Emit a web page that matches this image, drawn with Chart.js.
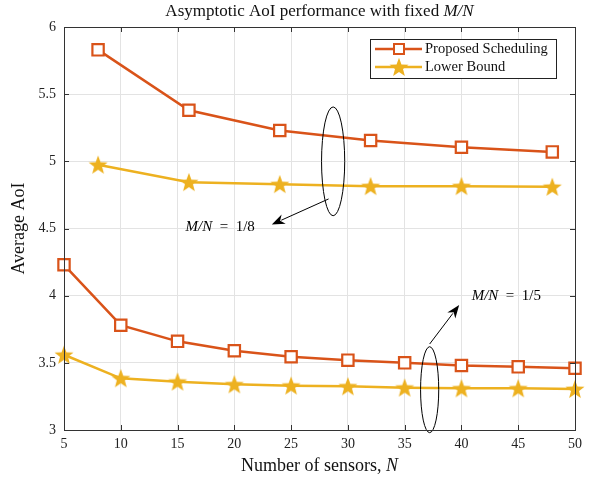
<!DOCTYPE html>
<html>
<head>
<meta charset="utf-8">
<script src="https://cdn.jsdelivr.net/npm/chart.js@4/dist/chart.umd.min.js"></script>
<style>
  html, body { margin: 0; padding: 0; background: #fff; }
  #wrap { width: 597px; height: 479px; }
</style>
</head>
<body>
<div id="wrap"><canvas id="c" width="597" height="479"></canvas></div>
<script>
// ─── Data ─────────────────────────────────────────────
const N_EIGHTH   = [8, 16, 24, 32, 40, 48];
const PROP_EIGHTH = [5.83, 5.38, 5.23, 5.155, 5.105, 5.07];
const LB_EIGHTH   = [4.975, 4.845, 4.83, 4.815, 4.815, 4.81];

const N_FIFTH    = [5, 10, 15, 20, 25, 30, 35, 40, 45, 50];
const PROP_FIFTH = [4.23, 3.78, 3.66, 3.59, 3.545, 3.52, 3.50, 3.48, 3.47, 3.46];
const LB_FIFTH   = [3.56, 3.385, 3.36, 3.34, 3.33, 3.325, 3.315, 3.31, 3.31, 3.305];

const X_TICKS = [5, 10, 15, 20, 25, 30, 35, 40, 45, 50];
const Y_TICKS = [3, 3.5, 4, 4.5, 5, 5.5, 6];

const C_PROP = '#D95319';
const C_LB   = '#EDB120';
const SERIF  = '"Liberation Serif", "DejaVu Serif", serif';

// filled 5-point star used as point style
function makeStar(r, color) {
  const cv = document.createElement('canvas');
  const s = Math.ceil(r * 2 + 2);
  cv.width = s; cv.height = s;
  const g = cv.getContext('2d');
  g.translate(s / 2, s / 2 + 0.8);
  g.beginPath();
  for (let i = 0; i < 10; i++) {
    const rr = i % 2 === 0 ? r : r * 0.42;
    const a = -Math.PI / 2 + i * Math.PI / 5;
    g.lineTo(rr * Math.cos(a), rr * Math.sin(a));
  }
  g.closePath();
  g.fillStyle = color;
  g.fill();
  return cv;
}
const STAR = makeStar(10, C_LB);

const pts = (xs, ys) => xs.map((x, i) => ({ x, y: ys[i] }));

function propSet(data) {
  return {
    data, borderColor: C_PROP, borderWidth: 2.5, clip: false,
    pointStyle: 'rect', pointRadius: 8, pointBorderWidth: 2.2,
    pointBackgroundColor: '#fff', pointBorderColor: C_PROP,
    pointRotation: 0, tension: 0,
  };
}
function lbSet(data) {
  return {
    data, borderColor: C_LB, borderWidth: 2.5, clip: false,
    pointStyle: STAR, pointRadius: 10, tension: 0,
  };
}

// mixed roman / italic text
function drawMixed(ctx, parts, x, y, size, align) {
  const widths = parts.map(p => {
    ctx.font = (p.it ? 'italic ' : '') + size + 'px ' + SERIF;
    return ctx.measureText(p.t).width;
  });
  const total = widths.reduce((a, b) => a + b, 0);
  let cx = align === 'center' ? x - total / 2 : x;
  ctx.textAlign = 'left';
  parts.forEach((p, i) => {
    ctx.font = (p.it ? 'italic ' : '') + size + 'px ' + SERIF;
    ctx.fillText(p.t, cx, y);
    cx += widths[i];
  });
}

function arrow(ctx, x0, y0, x1, y1) {
  const a = Math.atan2(y1 - y0, x1 - x0);
  const L = 13, W = 5;
  ctx.beginPath();
  ctx.moveTo(x0, y0);
  ctx.lineTo(x1 - L * 0.8 * Math.cos(a), y1 - L * 0.8 * Math.sin(a));
  ctx.stroke();
  ctx.beginPath();
  ctx.moveTo(x1, y1);
  ctx.lineTo(x1 - L * Math.cos(a) + W * Math.sin(a), y1 - L * Math.sin(a) - W * Math.cos(a));
  ctx.lineTo(x1 - L * 0.7 * Math.cos(a), y1 - L * 0.7 * Math.sin(a));
  ctx.lineTo(x1 - L * Math.cos(a) - W * Math.sin(a), y1 - L * Math.sin(a) + W * Math.cos(a));
  ctx.closePath();
  ctx.fill();
}

const decor = {
  id: 'decor',
  afterDatasetsDraw(chart) {
    const { ctx, chartArea: a, scales: { x, y } } = chart;
    ctx.save();
    ctx.strokeStyle = '#000';
    ctx.fillStyle = '#000';
    ctx.lineWidth = 1;

    // ellipses (data units)
    const ell = (cx, cy, rx, ry) => {
      ctx.beginPath();
      ctx.ellipse(x.getPixelForValue(cx), y.getPixelForValue(cy),
        Math.abs(x.getPixelForValue(cx + rx) - x.getPixelForValue(cx)),
        Math.abs(y.getPixelForValue(cy + ry) - y.getPixelForValue(cy)), 0, 0, Math.PI * 2);
      ctx.stroke();
    };
    ell(28.7, 5.0, 1.02, 0.405);
    ell(37.2, 3.3, 0.8, 0.32);

    arrow(ctx, x.getPixelForValue(28.3), y.getPixelForValue(4.72),
               x.getPixelForValue(23.3), y.getPixelForValue(4.53));
    arrow(ctx, x.getPixelForValue(37.2), y.getPixelForValue(3.64),
               x.getPixelForValue(39.8), y.getPixelForValue(3.93));

    ctx.textBaseline = 'middle';
    const eq = '\u2002=\u20021/';
    drawMixed(ctx, [{ t: 'M/N', it: true }, { t: eq + '8' }],
      x.getPixelForValue(15.7), y.getPixelForValue(4.51), 15, 'left');
    drawMixed(ctx, [{ t: 'M/N', it: true }, { t: eq + '5' }],
      x.getPixelForValue(40.9), y.getPixelForValue(3.995), 15, 'left');

    // legend
    const lx = 370, ly = 39, lw = 186, lh = 39;
    ctx.fillStyle = '#fff';
    ctx.fillRect(lx, ly, lw, lh);
    ctx.strokeStyle = '#222';
    ctx.lineWidth = 1;
    ctx.strokeRect(lx + 0.5, ly + 0.5, lw, lh);
    const rows = [
      { label: 'Proposed Scheduling', color: C_PROP, star: false, yy: ly + 10 },
      { label: 'Lower Bound', color: C_LB, star: true, yy: ly + 28 },
    ];
    rows.forEach(r => {
      ctx.strokeStyle = r.color;
      ctx.lineWidth = 2.5;
      ctx.beginPath();
      ctx.moveTo(lx + 5, r.yy); ctx.lineTo(lx + 52, r.yy); ctx.stroke();
      if (r.star) {
        ctx.drawImage(STAR, lx + 29 - STAR.width / 2, r.yy - STAR.height / 2);
      } else {
        ctx.fillStyle = '#fff';
        ctx.lineWidth = 2;
        ctx.fillRect(lx + 24, r.yy - 5, 10, 10);
        ctx.strokeRect(lx + 24, r.yy - 5, 10, 10);
      }
      ctx.fillStyle = '#111';
      ctx.font = '14.5px ' + SERIF;
      ctx.textAlign = 'left';
      ctx.fillText(r.label, lx + 55, r.yy + 0.5);
    });
    ctx.restore();
  },
  afterDraw(chart) {
    const { ctx, chartArea: a, scales: { x, y } } = chart;
    ctx.save();
    // box
    ctx.strokeStyle = '#333';
    ctx.lineWidth = 1;
    ctx.strokeRect(Math.round(a.left) + 0.5, Math.round(a.top) + 0.5,
      Math.round(a.right - a.left), Math.round(a.bottom - a.top));
    // inward ticks on all sides
    ctx.beginPath();
    X_TICKS.forEach(v => {
      const px = Math.round(x.getPixelForValue(v)) + 0.5;
      ctx.moveTo(px, a.bottom); ctx.lineTo(px, a.bottom - 5);
      ctx.moveTo(px, a.top); ctx.lineTo(px, a.top + 5);
    });
    Y_TICKS.forEach(v => {
      const py = Math.round(y.getPixelForValue(v)) + 0.5;
      ctx.moveTo(a.left, py); ctx.lineTo(a.left + 5, py);
      ctx.moveTo(a.right, py); ctx.lineTo(a.right - 5, py);
    });
    ctx.stroke();

    // title and axis titles
    ctx.fillStyle = '#111';
    ctx.textBaseline = 'middle';
    drawMixed(ctx, [{ t: 'Asymptotic AoI performance with fixed ' }, { t: 'M/N', it: true }],
      (a.left + a.right) / 2, 12, 17, 'center');
    drawMixed(ctx, [{ t: 'Number of sensors, ' }, { t: 'N', it: true }],
      (a.left + a.right) / 2, 466, 18, 'center');
    ctx.translate(19, (a.top + a.bottom) / 2);
    ctx.rotate(-Math.PI / 2);
    drawMixed(ctx, [{ t: 'Average AoI' }], 0, 0, 18, 'center');
    ctx.restore();
  }
};

new Chart(document.getElementById('c'), {
  type: 'line',
  data: {
    datasets: [
      propSet(pts(N_EIGHTH, PROP_EIGHTH)),
      lbSet(pts(N_EIGHTH, LB_EIGHTH)),
      propSet(pts(N_FIFTH, PROP_FIFTH)),
      lbSet(pts(N_FIFTH, LB_FIFTH)),
    ]
  },
  options: {
    responsive: false,
    animation: false,
    layout: { padding: { top: 27, right: 22, left: 0, bottom: 0 } },
    plugins: { legend: { display: false }, tooltip: { enabled: false } },
    scales: {
      x: {
        type: 'linear', min: 5, max: 50,
        afterBuildTicks: s => { s.ticks = X_TICKS.map(v => ({ value: v })); },
        afterFit: s => { s.height = 49; },
        grid: { color: '#e3e3e3', drawTicks: false },
        border: { display: false },
        ticks: { color: '#222', padding: 6, font: { family: SERIF, size: 14 },
                 callback: v => String(v) }
      },
      y: {
        type: 'linear', min: 3, max: 6,
        afterBuildTicks: s => { s.ticks = Y_TICKS.map(v => ({ value: v })); },
        afterFit: s => { s.width = 64; },
        grid: { color: '#e3e3e3', drawTicks: false },
        border: { display: false },
        ticks: { color: '#222', padding: 8, font: { family: SERIF, size: 14 },
                 callback: v => String(v) }
      }
    }
  },
  plugins: [decor]
});
</script>
</body>
</html>
